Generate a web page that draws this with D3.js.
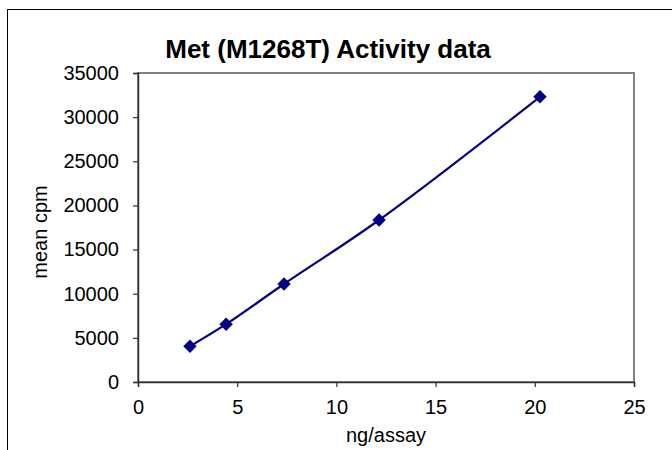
<!DOCTYPE html>
<html>
<head>
<meta charset="utf-8">
<script src="https://cdn.jsdelivr.net/npm/d3@7"></script>
<style>
  body { margin: 0; background: #fff; }
  text { font-family: "Liberation Sans", Arial, sans-serif; fill: #000; }
</style>
</head>
<body>
<div class="chart"></div>
<script>
// data
const ngAssay = [2.62, 4.44, 7.36, 12.15, 20.26];
const meanCpm = [4050, 6550, 11100, 18350, 32300];
const xTicks = [0, 5, 10, 15, 20, 25];
const yTicks = [0, 5000, 10000, 15000, 20000, 25000, 30000, 35000];

const W = 672, H = 450;
const margin = {top: 73, left: 138, bottom: 68, right: 38};
const width = W - margin.left - margin.right;
const height = H - margin.top - margin.bottom;

const svg = d3.select('.chart').append('svg')
    .attr('width', W)
    .attr('height', H);

// outer chart frame
svg.append('rect')
    .attr('x', 7.5).attr('y', 9.5)
    .attr('width', W + 10).attr('height', H + 10)
    .attr('fill', 'none')
    .attr('stroke', '#000')
    .attr('stroke-width', 1);

const g = svg.append('g')
    .attr('transform', 'translate(' + margin.left + ',' + margin.top + ')');

const xScale = d3.scaleLinear().domain([0, 25]).range([0, width]);
const yScale = d3.scaleLinear().domain([0, 35000]).range([height, 0]);

// plot area border (gray)
g.append('rect')
    .attr('x', 0).attr('y', 0)
    .attr('width', width).attr('height', height)
    .attr('fill', 'none')
    .attr('stroke', '#808080')
    .attr('stroke-width', 2);

const xAxis = d3.axisBottom(xScale).tickValues(xTicks).tickSize(5).tickPadding(13).tickFormat(d3.format('d'));
const yAxis = d3.axisLeft(yScale).tickValues(yTicks).tickSize(5).tickPadding(14).tickFormat(d3.format('d'));

const ya = g.append('g').attr('class', 'axis y-axis').call(yAxis);
const xa = g.append('g').attr('class', 'axis x-axis')
    .attr('transform', `translate(0, ${height})`)
    .call(xAxis);

[xa, ya].forEach(a => {
    a.select('.domain').attr('stroke', '#333').attr('stroke-width', 1.5);
    a.selectAll('.tick line').attr('stroke', '#333').attr('stroke-width', 1.2);
    a.selectAll('text').style('font-size', '20px').attr('fill', '#000');
});

// smoothed line like the spreadsheet
const line = d3.line()
    .x((d, i) => xScale(ngAssay[i]))
    .y(d => yScale(d))
    .curve(d3.curveCatmullRom.alpha(0.5));

g.append('path')
    .datum(meanCpm)
    .attr('d', line)
    .attr('fill', 'none')
    .attr('stroke', '#000080')
    .attr('stroke-width', 2.2);

g.selectAll('.pt')
    .data(meanCpm)
    .enter()
    .append('path')
    .attr('class', 'pt')
    .attr('d', d3.symbol().type(d3.symbolDiamond2).size(115))
    .attr('transform', (d, i) => 'translate(' + xScale(ngAssay[i]) + ',' + yScale(d) + ')')
    .attr('fill', '#000080');

svg.append('text')
    .attr('x', 328)
    .attr('y', 58)
    .attr('text-anchor', 'middle')
    .style('font-size', '26px')
    .style('font-weight', 'bold')
    .text('Met (M1268T) Activity data');

svg.append('text')
    .attr('x', margin.left + width / 2)
    .attr('y', 442)
    .attr('text-anchor', 'middle')
    .style('font-size', '20px')
    .text('ng/assay');

svg.append('text')
    .attr('transform', 'translate(47,232) rotate(-90)')
    .attr('text-anchor', 'middle')
    .style('font-size', '20px')
    .text('mean cpm');
</script>
</body>
</html>
